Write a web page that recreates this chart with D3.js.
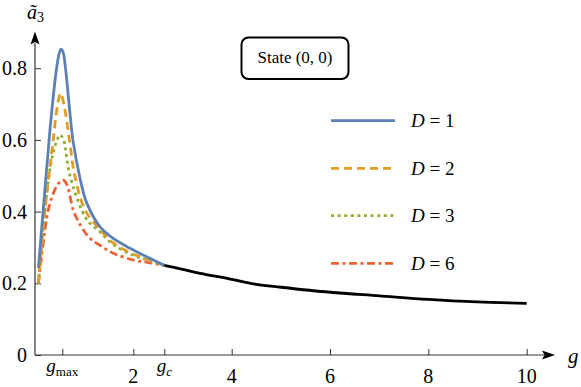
<!DOCTYPE html>
<html><head><meta charset="utf-8">
<script src="https://cdn.jsdelivr.net/npm/d3@7"></script>
<style>
html,body{margin:0;padding:0;background:#fff;}
</style></head>
<body>
<svg id="c" width="581" height="387"></svg>
<script>
// ---- data ----
const gD1 = [0.07, 0.17, 0.25, 0.33, 0.43, 0.49, 0.53, 0.57, 0.62, 0.70, 0.77, 0.92, 1.05, 1.32, 1.59, 1.93, 2.27, 2.63];
const aD1 = [0.243, 0.41, 0.54, 0.665, 0.79, 0.84, 0.853, 0.845, 0.80, 0.69, 0.60, 0.49, 0.425, 0.358, 0.325, 0.298, 0.274, 0.25];
const gD2 = [0.07, 0.20, 0.30, 0.37, 0.45, 0.52, 0.60, 0.70, 0.81, 1.02, 1.32, 1.59, 2.00, 2.27, 2.63];
const aD2 = [0.20, 0.40, 0.52, 0.60, 0.69, 0.73, 0.69, 0.60, 0.50, 0.404, 0.35, 0.313, 0.281, 0.268, 0.25];
const gD3 = [0.07, 0.20, 0.29, 0.38, 0.45, 0.51, 0.58, 0.70, 0.95, 1.10, 1.32, 1.59, 2.00, 2.27, 2.63];
const aD3 = [0.20, 0.40, 0.507, 0.57, 0.60, 0.614, 0.60, 0.507, 0.404, 0.37, 0.344, 0.308, 0.278, 0.266, 0.25];
const gD6 = [0.07, 0.27, 0.40, 0.50, 0.576, 0.65, 0.78, 0.92, 1.10, 1.32, 1.59, 2.00, 2.30, 2.63];
const aD6 = [0.20, 0.404, 0.46, 0.482, 0.488, 0.475, 0.404, 0.363, 0.328, 0.306, 0.284, 0.265, 0.258, 0.25];
const gBlack = [2.63, 3.00, 3.36, 4.00, 4.50, 5.00, 6.00, 7.00, 8.00, 9.00, 10.0];
const aBlack = [0.25, 0.239, 0.228, 0.211, 0.197, 0.189, 0.175, 0.165, 0.155, 0.148, 0.144];

const gMax = 0.555, gC = 2.63;
const xTickVals = [gMax, 2, gC, 4, 6, 8, 10];
const xTickLabels = ["gmax", "2", "gc", "4", "6", "8", "10"];
const yTickVals = [0, 0.2, 0.4, 0.6, 0.8];
const yTickLabels = ["0", "0.2", "0.4", "0.6", "0.8"];
const legendLabels = ["1", "2", "3", "6"];
const colors = ["#5e81b5", "#e19c24", "#8fb032", "#eb6235"];
const dashes = [null, "8,5", "3,3.6", "8,3.5,3,3.5"];

// ---- chart ----
const svg = d3.select("#c");
const x = d3.scaleLinear().domain([0, 10]).range([35, 526.7]);
const y = d3.scaleLinear().domain([0, 0.8]).range([355, 68.2]);

const axisColor = "#333";
// x axis
svg.append("line").attr("x1", x(0)).attr("x2", 544).attr("y1", y(0)).attr("y2", y(0))
  .attr("stroke", axisColor).attr("stroke-width", 1.2);
svg.append("path").attr("d", `M555,${y(0)} L542,${y(0)-4.5} L544.5,${y(0)} L542,${y(0)+4.5} Z`).attr("fill", "#000");
const xAxis = d3.axisBottom(x).tickValues(xTickVals).tickSizeInner(-6).tickSizeOuter(0).tickFormat("");
const gx = svg.append("g").attr("transform", `translate(0,${y(0)})`).call(xAxis);
gx.select(".domain").remove();
gx.selectAll(".tick line").attr("stroke", axisColor).attr("stroke-width", 1);

// y axis
svg.append("line").attr("x1", x(0)).attr("x2", x(0)).attr("y1", y(0)).attr("y2", 43)
  .attr("stroke", axisColor).attr("stroke-width", 1.2);
svg.append("path").attr("d", `M${x(0)},31.5 L${x(0)-4.5},44.5 L${x(0)},42 L${x(0)+4.5},44.5 Z`).attr("fill", "#000");
const yAxis = d3.axisLeft(y).tickValues(yTickVals).tickSizeInner(-6).tickSizeOuter(0).tickFormat("");
const gy = svg.append("g").attr("transform", `translate(${x(0)},0)`).call(yAxis);
gy.select(".domain").remove();
gy.selectAll(".tick line").attr("stroke", axisColor).attr("stroke-width", 1);

const FF = "'Liberation Serif', 'DejaVu Serif', serif";
// y tick labels
yTickVals.forEach((v, i) => {
  svg.append("text").attr("x", 27).attr("y", y(v)).attr("dy", "0.35em").attr("font-family", FF)
    .attr("text-anchor", "end").attr("font-size", 20).text(yTickLabels[i]);
});
// x tick labels
xTickVals.forEach((v, i) => {
  const lab = xTickLabels[i];
  if (lab === "gmax" || lab === "gc") {
    const t = svg.append("text").attr("x", x(v)).attr("y", 372).attr("text-anchor", "middle")
      .attr("font-family", FF).attr("font-size", 19);
    t.append("tspan").attr("font-style", "italic").text("g");
    t.append("tspan").attr("font-size", 13).attr("dy", 4).attr("font-style", lab === "gc" ? "italic" : "normal")
      .text(lab === "gmax" ? "max" : "c");
  } else {
    svg.append("text").attr("x", x(v)).attr("y", 383).attr("text-anchor", "middle")
      .attr("font-family", FF).attr("font-size", 20).text(lab);
  }
});
// axis labels
svg.append("text").attr("x", 568).attr("y", 363).attr("font-family", FF).attr("font-size", 21)
  .attr("font-style", "italic").text("g");
const yl = svg.append("text").attr("x", 27).attr("y", 19).attr("font-family", FF).attr("font-size", 20);
yl.append("tspan").attr("font-style", "italic").text("ã");
yl.append("tspan").attr("font-size", 14).attr("dy", 3).text("3");

// curves
const line = d3.line().x(d => x(d[0])).y(d => y(d[1])).curve(d3.curveCatmullRom.alpha(0.5));
const series = [[gD1, aD1], [gD2, aD2], [gD3, aD3], [gD6, aD6]];
for (let i = series.length - 1; i >= 0; i--) {
  const pts = d3.zip(series[i][0], series[i][1]);
  svg.append("path").attr("d", line(pts)).attr("fill", "none").attr("stroke", colors[i])
    .attr("stroke-width", 2.8).attr("stroke-dasharray", dashes[i]);
}
svg.append("path").attr("d", line(d3.zip(gBlack, aBlack))).attr("fill", "none")
  .attr("stroke", "#000").attr("stroke-width", 2.8);

// legend
const legY = [120.7, 168.3, 215.7, 263.3];
legendLabels.forEach((lab, i) => {
  svg.append("line").attr("x1", 331).attr("x2", 395).attr("y1", legY[i]).attr("y2", legY[i])
    .attr("stroke", colors[i]).attr("stroke-width", 2.8).attr("stroke-dasharray", dashes[i]);
  const t = svg.append("text").attr("x", 411).attr("y", legY[i]).attr("dy", "0.35em")
    .attr("font-family", FF).attr("font-size", 19);
  t.append("tspan").attr("font-style", "italic").text("D");
  t.append("tspan").text(" = " + lab);
});

// state box
svg.append("rect").attr("x", 241.5).attr("y", 37.5).attr("width", 107).attr("height", 41.5)
  .attr("rx", 7).attr("fill", "#fff").attr("stroke", "#000").attr("stroke-width", 2);
svg.append("text").attr("x", 295).attr("y", 63).attr("text-anchor", "middle")
  .attr("font-family", FF).attr("font-size", 17).text("State (0, 0)");
</script>
</body></html>
